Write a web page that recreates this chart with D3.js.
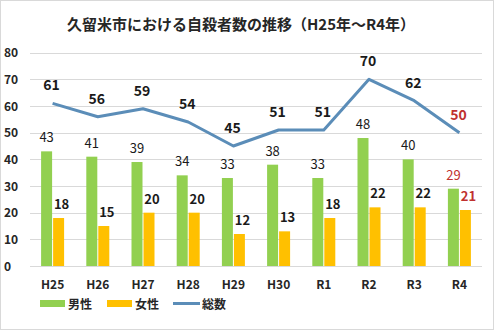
<!DOCTYPE html>
<html><head><meta charset="utf-8">
<script src="https://cdn.jsdelivr.net/npm/d3@7"></script>
<style>body{margin:0;background:#fff}svg{display:block}</style>
</head><body>
<script>
const categories = ["H25","H26","H27","H28","H29","H30","R1","R2","R3","R4"];
const male = [43,41,39,34,33,38,33,48,40,29];
const female = [18,15,20,20,12,13,18,22,22,21];
const total = [61,56,59,54,45,51,51,70,62,50];
const yTicks = [0,10,20,30,40,50,60,70,80];
const title = "久留米市における自殺者数の推移（H25年～R4年）";
const seriesNames = ["男性","女性","総数"];

const W=494,H=330;
const font = "'Noto Sans CJK JP','Noto Sans',sans-serif";
const svg = d3.select("body").append("svg").attr("width",W).attr("height",H);
svg.append("rect").attr("x",0.5).attr("y",0.5).attr("width",W-1).attr("height",H-1).attr("fill","#fff").attr("stroke","#d9d9d9");

const x = d3.scaleBand().domain(categories).range([30,482]);
const y = d3.scaleLinear().domain([0,80]).range([266,52.7]);

svg.append("text").attr("x",241).attr("y",30).attr("text-anchor","middle")
  .attr("font-family",font).attr("font-weight","bold").attr("font-size",15).attr("fill","#262626").text(title);

// grid
svg.append("g").selectAll("line").data(yTicks).join("line")
  .attr("x1",30).attr("x2",482).attr("y1",d=>Math.round(y(d))+0.5).attr("y2",d=>Math.round(y(d))+0.5)
  .attr("stroke","#d9d9d9").attr("stroke-width",1);
svg.append("g").selectAll("text").data(yTicks).join("text")
  .attr("x",4).attr("y",d=>y(d)+4.5).attr("font-family",font).attr("font-weight","bold").attr("font-size",12).attr("fill","#262626")
  .text(d=>d);

const bw = 11;
const cx = c => x(c)+x.bandwidth()/2;
svg.append("g").selectAll("rect").data(categories).join("rect")
  .attr("x",(c)=>cx(c)-bw-0.5).attr("width",bw).attr("y",(c,i)=>y(male[i])).attr("height",(c,i)=>y(0)-y(male[i]))
  .attr("fill","#92D050");
svg.append("g").selectAll("rect").data(categories).join("rect")
  .attr("x",(c)=>cx(c)+0.5).attr("width",bw).attr("y",(c,i)=>y(female[i])).attr("height",(c,i)=>y(0)-y(female[i]))
  .attr("fill","#FFC000");

// labels male
svg.append("g").selectAll("text").data(categories).join("text")
  .attr("x",c=>cx(c)-6).attr("y",(c,i)=>y(male[i])-9).attr("text-anchor","middle")
  .attr("font-family",font).attr("font-size",13)
  .attr("fill",(c,i)=>i===9?"#C0312F":"#1a1a1a").text((c,i)=>male[i]);
svg.append("g").selectAll("text").data(categories).join("text")
  .attr("x",c=>cx(c)+9).attr("y",(c,i)=>y(female[i])-9).attr("text-anchor","middle")
  .attr("font-family",font).attr("font-weight","bold").attr("font-size",13)
  .attr("fill",(c,i)=>i===9?"#C0312F":"#1a1a1a").text((c,i)=>female[i]);

// line
const line = d3.line().x((d,i)=>cx(categories[i])).y(d=>y(d));
svg.append("path").datum(total).attr("d",line).attr("fill","none").attr("stroke","#5B8DB8").attr("stroke-width",3).attr("stroke-linejoin","round");
svg.append("g").selectAll("text").data(categories).join("text")
  .attr("x",c=>cx(c)-1).attr("y",(c,i)=>y(total[i])-13).attr("text-anchor","middle")
  .attr("font-family",font).attr("font-weight","bold").attr("font-size",14)
  .attr("fill",(c,i)=>i===9?"#C0312F":"#1a1a1a").text((c,i)=>total[i]);

// x axis labels
svg.append("g").selectAll("text").data(categories).join("text")
  .attr("x",c=>cx(c)).attr("y",289).attr("text-anchor","middle")
  .attr("font-family",font).attr("font-weight","bold").attr("font-size",12).attr("fill","#262626").text(c=>c);

// legend
const lg = svg.append("g").attr("font-family",font).attr("font-weight","bold").attr("font-size",12).attr("fill","#262626");
lg.append("rect").attr("x",40).attr("y",300).attr("width",25).attr("height",7).attr("fill","#92D050");
lg.append("text").attr("x",68).attr("y",309).text(seriesNames[0]);
lg.append("rect").attr("x",107).attr("y",300).attr("width",25).attr("height",7).attr("fill","#FFC000");
lg.append("text").attr("x",135).attr("y",309).text(seriesNames[1]);
lg.append("line").attr("x1",173).attr("x2",200).attr("y1",303.5).attr("y2",303.5).attr("stroke","#5B8DB8").attr("stroke-width",3);
lg.append("text").attr("x",202).attr("y",309).text(seriesNames[2]);
</script>
</body></html>
